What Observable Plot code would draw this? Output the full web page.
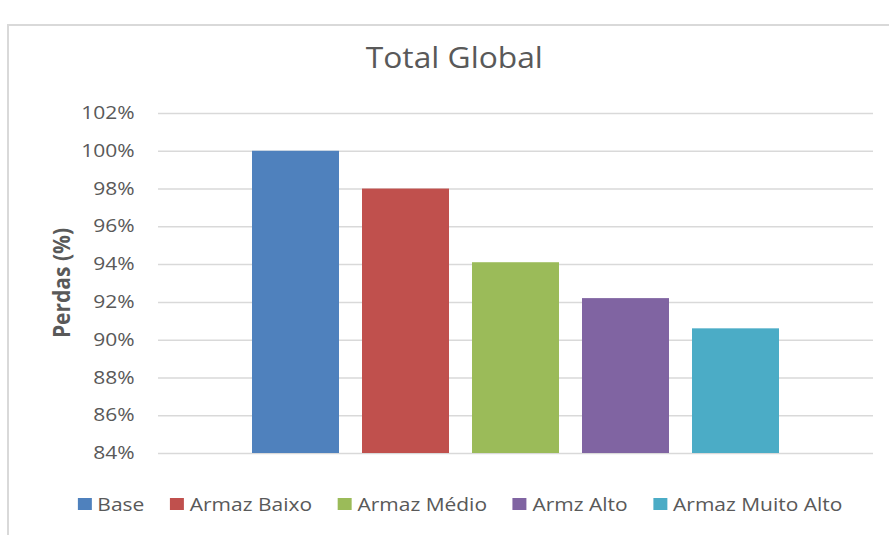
<!DOCTYPE html>
<html>
<head>
<meta charset="utf-8">
<script src="https://cdn.jsdelivr.net/npm/d3@7"></script>
<script src="https://cdn.jsdelivr.net/npm/@observablehq/plot@0.6"></script>
<style>
  html, body { margin: 0; padding: 0; background: #fff; }
  body { width: 889px; height: 535px; overflow: hidden; position: relative; font-family: "Open Sans", Lato, sans-serif; color: #595959; }
  #frame { position: absolute; left: 7px; top: 24px; width: 904px; height: 600px; border: 2px solid #d9d9d9; box-sizing: border-box; }
  #title { position: absolute; left: 7px; width: 896px; top: 37px; text-align: center; font-size: 29px; line-height: 40px; transform: scaleX(1.095); transform-origin: 455px 0; }
  #ylabel { position: absolute; left: 61px; top: 283px; transform: translate(-50%, -50%) scaleX(1.1) rotate(-90deg); font-weight: bold; font-size: 21px; white-space: nowrap; }
  #chart { position: absolute; left: 0; top: 0; }
  #legend { position: absolute; left: 0; width: 920px; top: 491px; display: flex; justify-content: center; gap: 22px; font-size: 18px; line-height: 26px; transform: scaleX(1.165); transform-origin: 460px 0; }
  .item { display: flex; align-items: center; gap: 5px; }
  .sw { width: 12px; height: 12px; display: inline-block; }
</style>
</head>
<body>
<div id="frame"></div>
<div id="title">Total Global</div>
<div id="chart"></div>
<div id="ylabel">Perdas (%)</div>
<div id="legend"></div>
<script>
const series = ["Base", "Armaz Baixo", "Armaz Médio", "Armz Alto", "Armaz Muito Alto"];
const values = [100, 98, 94.1, 92.2, 90.6];
const colors = ["#4f81bd", "#c0504d", "#9bbb59", "#8064a2", "#4bacc6"];
const yTicks = [84, 86, 88, 90, 92, 94, 96, 98, 100, 102];

const data = series.map((s, i) => ({series: s, value: values[i]}));

const chart = Plot.plot({
  width: 889,
  height: 535,
  marginLeft: 158,
  marginRight: 16,
  marginTop: 113,
  marginBottom: 82,
  style: {fontFamily: "'Open Sans', Lato, sans-serif", fontSize: "17.5px", color: "#595959", background: "transparent"},
  x: {domain: series, paddingInner: 0.209, paddingOuter: 0.8545, axis: null},
  y: {domain: [84, 102], ticks: yTicks, label: null},
  color: {domain: series, range: colors},
  marks: [
    Plot.gridY(yTicks, {stroke: "#d9d9d9", strokeOpacity: 1, strokeWidth: 1.5}),
    Plot.barY(data, {x: "series", y1: 84, y2: "value", fill: "series"}),
    Plot.axisY(yTicks, {tickSize: 0, tickPadding: 24, tickFormat: d => d + "%", fill: "#595959", label: null})
  ]
});
document.getElementById("chart").appendChild(chart);

// horizontal stretch of tick labels around their anchor
chart.querySelectorAll('[aria-label="y-axis tick label"] text').forEach(t => {
  const tr = t.getAttribute("transform");
  if (tr) {
    t.setAttribute("transform", tr + " scale(1.2,1)");
  } else {
    const x = +(t.getAttribute("x") || 0);
    t.setAttribute("transform", `translate(${x},0) scale(1.2,1) translate(${-x},0)`);
  }
});

const legend = document.getElementById("legend");
series.forEach((s, i) => {
  const item = document.createElement("div");
  item.className = "item";
  const sw = document.createElement("span");
  sw.className = "sw";
  sw.style.background = colors[i];
  const t = document.createElement("span");
  t.textContent = s;
  item.appendChild(sw);
  item.appendChild(t);
  legend.appendChild(item);
});
</script>
</body>
</html>
